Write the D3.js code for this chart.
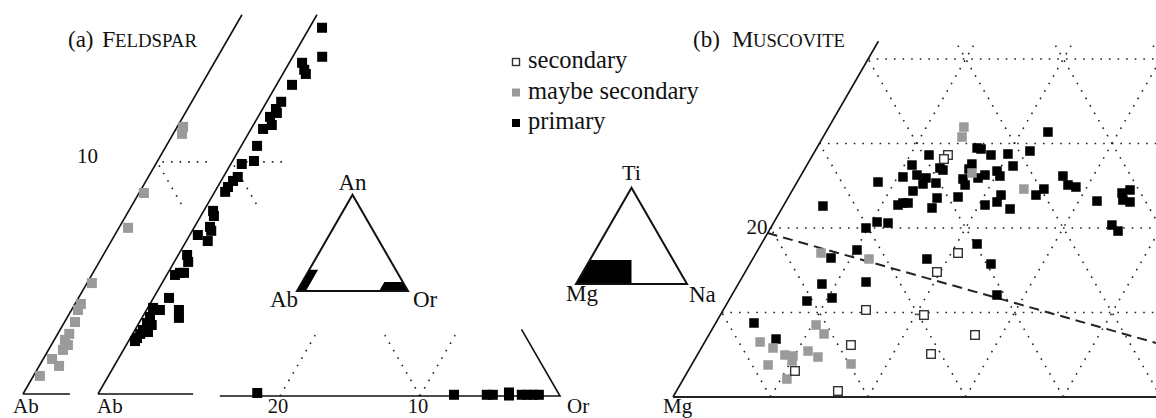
<!DOCTYPE html>
<html>
<head>
<meta charset="utf-8">
<script src="https://cdn.jsdelivr.net/npm/d3@7"></script>
<style>
html, body { margin: 0; padding: 0; background: #fff; }
svg { display: block; }
text { font-family: "Liberation Serif", "Times New Roman", serif; fill: #111; }
</style>
</head>
<body>
<svg id="chart" width="1156" height="418"></svg>
<script>
// ---------------- DATA ----------------
// Feldspar, Ab corner, "maybe secondary" strip: [Or %, An %]
const fspMaybeAb = [
  [0.22,11.51],[0.33,11.21],[0.18,8.66],[0.34,7.16],[0.18,4.78],[0.22,3.88],[0.24,3.62],
  [0.39,3.10],[0.43,2.59],[0.40,2.33],[0.62,2.11],[0.54,1.90],[0.33,1.51],[0.74,1.21],[0.24,0.78]
];
// Feldspar, Ab corner, "primary" strip: [Or %, An %]
const fspPrimaryAb = [
  [0.47,15.78],[1.10,14.53],[0.48,14.27],[0.71,13.97],[0.86,13.79],[0.58,13.32],[0.54,12.59],
  [0.50,12.28],[0.62,12.11],[0.45,11.94],[0.69,11.59],[0.45,11.42],[0.59,10.69],[0.80,10.04],
  [0.41,9.91],[0.54,9.35],[0.45,9.18],[0.39,8.92],[0.39,8.71],[0.35,7.89],[0.49,7.67],
  [0.58,7.20],[0.71,7.03],[0.30,6.85],[0.80,6.59],[0.33,5.99],[0.52,5.69],[0.45,5.22],
  [0.31,5.13],[0.60,5.22],[0.58,4.14],[0.50,3.62],[1.21,3.62],[1.38,3.28],[0.20,3.71],
  [0.28,3.32],[0.30,3.06],[0.52,2.97],[0.30,2.76],[0.53,2.67],[0.28,2.59],[0.25,2.41],[0.24,2.28]
];
// Feldspar, Or corner, "primary": [Ab %, An %]
const fspPrimaryOr = [
  [21.5,0.25],[7.52,0.1],[5.18,0.1],[4.75,0.1],[3.50,0.29],[3.62,0.04],
  [2.68,0.1],[2.29,0.1],[1.86,0.1],[1.46,0.1]
];
// Muscovite: [Na %, Ti %]
const musPrimary = [
  [11.92,28.64],[10.77,27.45],[11.87,26.27],[10.55,26.04],[12.97,25.92],[13.02,25.21],[14.29,25.32],
  [12.41,24.38],[13.81,27.10],[15.29,23.55],[15.36,22.37],[11.70,22.72],[12.09,22.96],[12.61,22.96],
  [8.29,25.44],[4.07,22.60],[10.56,20.71],[11.74,20.59],[9.78,20.00],[10.16,17.40],[7.97,16.45],
  [17.86,16.33],[12.98,13.61],[8.58,13.37],[10.44,11.72],[8.05,11.36],[3.92,8.76],[7.13,6.86],
  [22.75,31.36],[16.43,29.47],[16.90,29.35],[18.27,28.64],[19.95,28.76],[22.03,29.11],[21.18,27.34],
  [16.85,27.57],[16.85,26.98],[14.24,26.86],[16.82,25.80],[17.39,25.09],[18.84,26.27],[18.30,25.92],
  [19.84,26.74],[20.43,26.15],[17.38,23.67],[20.62,22.72],[21.67,23.90],[21.67,23.08],[23.42,22.25],
  [25.25,23.90],[25.71,24.61],[26.89,26.15],[27.94,25.09],[28.87,24.85],[31.86,23.19],[33.95,24.14],
  [34.59,24.50],[34.46,23.31],[35.30,23.08],[34.81,20.35],[35.79,19.64],[22.11,18.11],[24.72,15.74],
  [27.17,12.07]
];
const musMaybe = [
  [13.84,31.95],[14.24,30.77],[17.39,26.51],[23.66,24.61],[6.65,17.04],[11.92,16.33],[10.40,8.52],
  [11.75,7.46],[5.67,6.51],[7.35,5.80],[11.12,5.44],[12.49,4.73],[8.99,4.97],[9.87,4.85],
  [10.07,4.26],[7.85,3.79],[16.29,3.91],[10.61,2.13]
];
const musSecondary = [
  [13.86,28.64],[13.69,28.16],[20.69,17.04],[19.66,14.79],[14.63,10.30],[20.87,9.70],
  [15.16,6.15],[23.90,5.09],[27.28,7.34],[10.96,3.08],[16.55,0.71]
];
// Muscovite dividing (dashed) line: [Na %, Ti %]
const musDivide = [[0, 19.4], [46.3, 6.4]];
// Inset overview regions
const insetFspAbRegion = [[0,0],[8,0],[8,22],[0,22]];      // [Or, An]
const insetFspOrRegion = [[0,0],[26,0],[16.6,9.4],[0,9.4]]; // [Ab, An]
const insetMusRegion = [[0,0],[50,0],[37.5,25],[0,25]];     // [Na, Ti]
// Ticks and labels
const fspAnTicks = [10];
const fspAbTicks = [20, 10];
const musTiTicks = [20];
const musGridSteps = [10, 20, 30, 40, 50, 60, 70];
const legendLabels = ["secondary", "maybe secondary", "primary"];
const legendKinds = ["secondary", "maybe", "primary"];

// ---------------- HELPERS ----------------
const svg = d3.select("#chart");
svg.append("rect").attr("width", 1156).attr("height", 418).attr("fill", "#fff");
const R3 = Math.sqrt(3) / 2;
// ternary projection: p = [b, a]; b along base, a toward apex
function ternary(x0, y0, k, dir) {
  const sx = d3.scaleLinear().domain([0, 100]).range([x0, x0 + dir * 100 * k]);
  const sy = d3.scaleLinear().domain([0, 100]).range([y0, y0 - 100 * k * R3]);
  return p => [sx(p[0] + p[1] / 2), sy(p[1])];
}
const lineGen = d3.line();
function path(g, proj, pts, style) {
  const p = g.append("path").attr("d", lineGen(pts.map(proj))).attr("fill", "none");
  if (style === "solid") p.attr("stroke", "#111").attr("stroke-width", 1.6);
  if (style === "thick") p.attr("stroke", "#222").attr("stroke-width", 2.2);
  if (style === "dot") p.attr("stroke", "#222").attr("stroke-width", 1.6).attr("stroke-dasharray", "1.6 7");
  if (style === "dash") p.attr("stroke", "#222").attr("stroke-width", 2).attr("stroke-dasharray", "10 6");
  return p;
}
const styles = {
  primary: { fill: "#000", stroke: "none", sw: 0 },
  maybe: { fill: "#9a9a9a", stroke: "none", sw: 0 },
  secondary: { fill: "#fff", stroke: "#333", sw: 1.4 }
};
function squares(g, proj, data, size, kind) {
  const st = styles[kind];
  const s = st.sw ? size - st.sw : size;
  g.selectAll(null).data(data).join("rect")
    .attr("x", d => proj(d)[0] - s / 2)
    .attr("y", d => proj(d)[1] - s / 2)
    .attr("width", s).attr("height", s)
    .attr("fill", st.fill)
    .attr("stroke", st.stroke).attr("stroke-width", st.sw);
}
function label(g, x, y, txt, size, anchor) {
  return g.append("text").attr("x", x).attr("y", y).attr("font-size", size)
    .attr("text-anchor", anchor || "start").text(txt);
}
const baseY = 412.5;

// ---------------- (a) FELDSPAR ----------------
const gA = svg.append("g");
const strip1 = ternary(23, 394, 26.8, 1);
const strip2 = ternary(98, 394, 26.8, 1);
const orStrip = ternary(560, 396, 14, -1);

[[strip1, 1.75], [strip2, 3.55]].forEach(([pr, baseLen]) => {
  // grid fragments (An = 10, Ab = 90)
  path(gA, pr, [[0.2, 10], [2.05, 10]], "dot");
  path(gA, pr, [[0.15, 9.85], [2, 8]], "dot");
  path(gA, pr, [[0, 0], [0, 16.34]], "solid");
  path(gA, pr, [[0, 0], [baseLen, 0]], "solid");
});
// Or corner strip
path(gA, orStrip, [[20, 0], [14.6, 5.4]], "dot");
path(gA, orStrip, [[10, 0], [10, 5.4]], "dot");
path(gA, orStrip, [[10, 0], [4.8, 5.2]], "dot");
path(gA, orStrip, [[24.3, 0], [0, 0], [0, 5.5]], "solid");

squares(gA, strip1, fspMaybeAb, 10, "maybe");
squares(gA, strip2, fspPrimaryAb, 10, "primary");
squares(gA, orStrip, fspPrimaryOr, 10, "primary");

fspAnTicks.forEach(t => {
  const p = strip1([0, t]);
  label(gA, p[0] - 59, p[1] + 1, String(t), 21, "end");
});
fspAbTicks.forEach(t => {
  const p = orStrip([t, 0]);
  label(gA, p[0] - 2, baseY, String(t), 20.5, "middle");
});
label(gA, strip1([0, 0])[0] - 10, baseY, "Ab", 21);
label(gA, strip2([0, 0])[0] - 1, baseY, "Ab", 21);
label(gA, orStrip([0, 0])[0] + 7, baseY, "Or", 21);

// title (a)
label(gA, 68, 47, "(a)", 23);
label(gA, 102, 47, "F", 24);
label(gA, 115, 47, "ELDSPAR", 18.5).attr("textLength", 82).attr("lengthAdjust", "spacingAndGlyphs");

// Feldspar inset
const fIn = ternary(297, 291, 1.11, 1);
const fInOr = ternary(408, 291, 1.11, -1);
gA.append("path").attr("d", lineGen(insetFspAbRegion.map(fIn)) + "Z").attr("fill", "#000");
gA.append("path").attr("d", lineGen(insetFspOrRegion.map(fInOr)) + "Z").attr("fill", "#000");
gA.append("path").attr("d", lineGen([[0,0],[100,0],[0,100]].map(fIn)) + "Z")
  .attr("fill", "none").attr("stroke", "#111").attr("stroke-width", 2).attr("stroke-linejoin", "miter");
label(gA, fIn([0,100])[0], fIn([0,100])[1] - 5, "An", 23, "middle");
label(gA, fIn([0,0])[0] + 1, fIn([0,0])[1] + 16, "Ab", 23, "end");
label(gA, fIn([100,0])[0] + 5, fIn([100,0])[1] + 16, "Or", 23);

// ---------------- Legend ----------------
const gL = svg.append("g");
legendLabels.forEach((t, i) => {
  const y = 62 + i * 30.5;
  const st = styles[legendKinds[i]];
  const s = st.sw ? 7 : 8;
  gL.append("rect").attr("x", 516 - s / 2).attr("y", y - s / 2).attr("width", s).attr("height", s)
    .attr("fill", st.fill).attr("stroke", st.stroke).attr("stroke-width", st.sw);
  label(gL, 528, y + 6, t, 24.5);
});

// ---------------- (b) MUSCOVITE ----------------
const gB = svg.append("g");
const mus = ternary(673, 397, 9.757, 1);
const topTi = 42.1;
const clipPts = [[0, 0], [0, topTi], [49.6 - topTi / 2, topTi], [49.6, 0]].map(mus);
svg.append("defs").append("clipPath").attr("id", "musClip")
  .append("path").attr("d", lineGen(clipPts) + "Z");
const gGrid = gB.append("g").attr("clip-path", "url(#musClip)");
musGridSteps.forEach(v => {
  if (v <= 40) path(gGrid, mus, [[0, v], [100 - v, v]], "dot");   // constant Ti
  path(gGrid, mus, [[v, 0], [v, 100 - v]], "dot");                  // constant Na
  path(gGrid, mus, [[v, 0], [0, v]], "dot");                        // constant Mg
});
path(gGrid, mus, musDivide, "dash");
path(gB, mus, [[0, 0], [0, topTi]], "solid");
path(gB, mus, [[0, 0], [49.6, 0]], "thick");

squares(gB, mus, musPrimary, 9.5, "primary");
squares(gB, mus, musMaybe, 9.5, "maybe");
squares(gB, mus, musSecondary, 10, "secondary");

musTiTicks.forEach(t => {
  const p = mus([0, t]);
  label(gB, p[0] - 3, p[1] + 6, String(t), 21, "end");
});
label(gB, mus([0, 0])[0] - 10, baseY, "Mg", 21);

label(gB, 693, 47, "(b)", 23);
label(gB, 732, 47, "M", 24);
label(gB, 753, 47, "USCOVITE", 18.5).attr("textLength", 92).attr("lengthAdjust", "spacingAndGlyphs");

// Muscovite inset
const mIn = ternary(576, 284, 1.11, 1);
gB.append("path").attr("d", lineGen(insetMusRegion.map(mIn)) + "Z").attr("fill", "#000");
gB.append("path").attr("d", lineGen([[0,0],[100,0],[0,100]].map(mIn)) + "Z")
  .attr("fill", "none").attr("stroke", "#111").attr("stroke-width", 2);
label(gB, mIn([0,100])[0], mIn([0,100])[1] - 8, "Ti", 22, "middle");
label(gB, mIn([0,0])[0] - 10, mIn([0,0])[1] + 17, "Mg", 23);
label(gB, mIn([100,0])[0] + 2, mIn([100,0])[1] + 18, "Na", 23);
</script>
</body>
</html>
